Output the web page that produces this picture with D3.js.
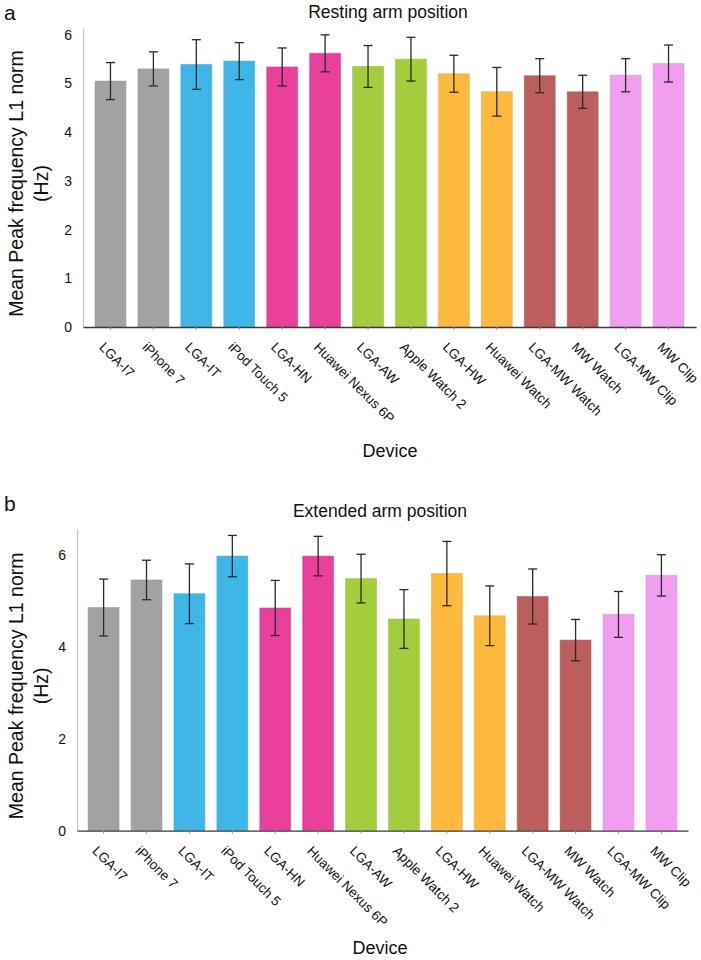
<!DOCTYPE html>
<html>
<head>
<meta charset="utf-8">
<script src="https://cdn.jsdelivr.net/npm/d3@7"></script>
<style>
  body { margin: 0; background: #fff; }
  svg { display: block; }
  text { font-family: "Liberation Sans", Arial, Helvetica, sans-serif; fill: #111; }
</style>
</head>
<body>
<svg id="chart" width="701" height="960"></svg>
<script>
const devices = ["LGA-I7", "iPhone 7", "LGA-IT", "iPod Touch 5", "LGA-HN", "Huawei Nexus 6P",
  "LGA-AW", "Apple Watch 2", "LGA-HW", "Huawei Watch", "LGA-MW Watch", "MW Watch", "LGA-MW Clip", "MW Clip"];
const groupColors = ["#a2a2a2", "#3fb6e8", "#e9409b", "#a4cd3e", "#fdb93d", "#bc5e5e", "#f19ef0"];

const restingMean = [5.05, 5.30, 5.39, 5.46, 5.34, 5.62, 5.35, 5.50, 5.20, 4.83, 5.16, 4.83, 5.17, 5.41];
const restingErr  = [0.38, 0.35, 0.51, 0.38, 0.39, 0.38, 0.43, 0.45, 0.38, 0.50, 0.35, 0.34, 0.34, 0.38];
const extendedMean = [4.86, 5.46, 5.16, 5.98, 4.85, 5.98, 5.49, 4.61, 5.60, 4.68, 5.10, 4.15, 4.71, 5.56];
const extendedErr  = [0.62, 0.43, 0.65, 0.45, 0.60, 0.43, 0.53, 0.64, 0.70, 0.65, 0.60, 0.45, 0.50, 0.45];

const restingTicks = [0, 1, 2, 3, 4, 5, 6];
const extendedTicks = [0, 2, 4, 6];

const svg = d3.select("#chart");

function panel(cfg) {
  const g = svg.append("g");
  const x = d3.scaleBand().domain(devices).range([cfg.x0, cfg.x1]).paddingInner(0.28).paddingOuter(cfg.po);
  const y = d3.scaleLinear().domain([0, cfg.ymax]).range([cfg.base, cfg.top]);

  // panel letter
  g.append("text").attr("x", 4).attr("y", cfg.letterY).style("font-size", "21px").text(cfg.letter);
  // title
  g.append("text").attr("x", cfg.titleX).attr("y", cfg.titleY).attr("text-anchor", "middle")
    .style("font-size", "17.5px").text(cfg.title);

  // y axis
  const ya = g.append("g").attr("transform", `translate(${cfg.x0},0)`)
    .call(d3.axisLeft(y).tickValues(cfg.ticks).tickFormat(d3.format("d")).tickSize(0).tickPadding(11).tickSizeOuter(0));
  ya.select(".domain").attr("stroke", "#c4c4c4").attr("stroke-width", 1.2);
  ya.selectAll("text").style("font-size", "14px").style("font-family", "Liberation Sans, Arial, sans-serif");

  // bars
  g.selectAll("rect.bar").data(devices).enter().append("rect")
    .attr("x", d => x(d))
    .attr("y", (d, i) => y(cfg.mean[i]))
    .attr("width", x.bandwidth())
    .attr("height", (d, i) => y(0) - y(cfg.mean[i]))
    .attr("fill", (d, i) => groupColors[Math.floor(i / 2)])
    .attr("stroke", (d, i) => d3.color(groupColors[Math.floor(i / 2)]).darker(0.3))
    .attr("stroke-opacity", 0.5)
    .attr("stroke-width", 1);

  // error bars
  const eb = g.selectAll("g.err").data(devices).enter().append("g")
    .attr("stroke", "#2a2a2a").attr("stroke-width", 1.3);
  const cx = d => x(d) + x.bandwidth() / 2;
  eb.append("line").attr("x1", cx).attr("x2", cx)
    .attr("y1", (d, i) => y(cfg.mean[i] + cfg.err[i]))
    .attr("y2", (d, i) => y(cfg.mean[i] - cfg.err[i]));
  eb.append("line").attr("x1", d => cx(d) - 4.5).attr("x2", d => cx(d) + 4.5)
    .attr("y1", (d, i) => y(cfg.mean[i] + cfg.err[i]))
    .attr("y2", (d, i) => y(cfg.mean[i] + cfg.err[i]));
  eb.append("line").attr("x1", d => cx(d) - 4.5).attr("x2", d => cx(d) + 4.5)
    .attr("y1", (d, i) => y(cfg.mean[i] - cfg.err[i]))
    .attr("y2", (d, i) => y(cfg.mean[i] - cfg.err[i]));

  // x axis
  const xa = g.append("g").attr("transform", `translate(0,${cfg.base})`)
    .call(d3.axisBottom(x).tickSize(3).tickSizeOuter(0));
  xa.select(".domain").attr("stroke", "#3a3a3a").attr("stroke-width", 1.3);
  xa.selectAll(".tick line").attr("stroke", "#999");
  xa.selectAll("text")
    .attr("x", 0).attr("y", 0).attr("dy", null)
    .attr("transform", "translate(-12,21) rotate(45)")
    .style("text-anchor", "start")
    .style("font-size", "13.5px")
    .style("font-family", "Liberation Sans, Arial, sans-serif");

  // axis labels
  const ly = (cfg.base + cfg.top) / 2 + cfg.ylabShift;
  g.append("text").attr("transform", `translate(23,${ly}) rotate(-90)`).attr("text-anchor", "middle")
    .style("font-size", "19.5px").text("Mean Peak frequency L1 norm");
  g.append("text").attr("transform", `translate(48,${ly}) rotate(-90)`).attr("text-anchor", "middle")
    .style("font-size", "19.5px").text("(Hz)");
  g.append("text").attr("x", cfg.devX).attr("y", cfg.devY).attr("text-anchor", "middle")
    .style("font-size", "18px").text("Device");
}

panel({ letter: "a", letterY: 20, title: "Resting arm position", titleX: 388, titleY: 18,
  x0: 83, x1: 696, po: 0.28, base: 327, top: 28, ymax: 6.14, ticks: restingTicks,
  mean: restingMean, err: restingErr, ylabShift: 6, devX: 390, devY: 457 });
panel({ letter: "b", letterY: 511, title: "Extended arm position", titleX: 380, titleY: 517,
  x0: 77, x1: 688, po: 0.26, base: 830.7, top: 529, ymax: 6.57, ticks: extendedTicks,
  mean: extendedMean, err: extendedErr, ylabShift: 6, devX: 380, devY: 954 });
</script>
</body>
</html>
